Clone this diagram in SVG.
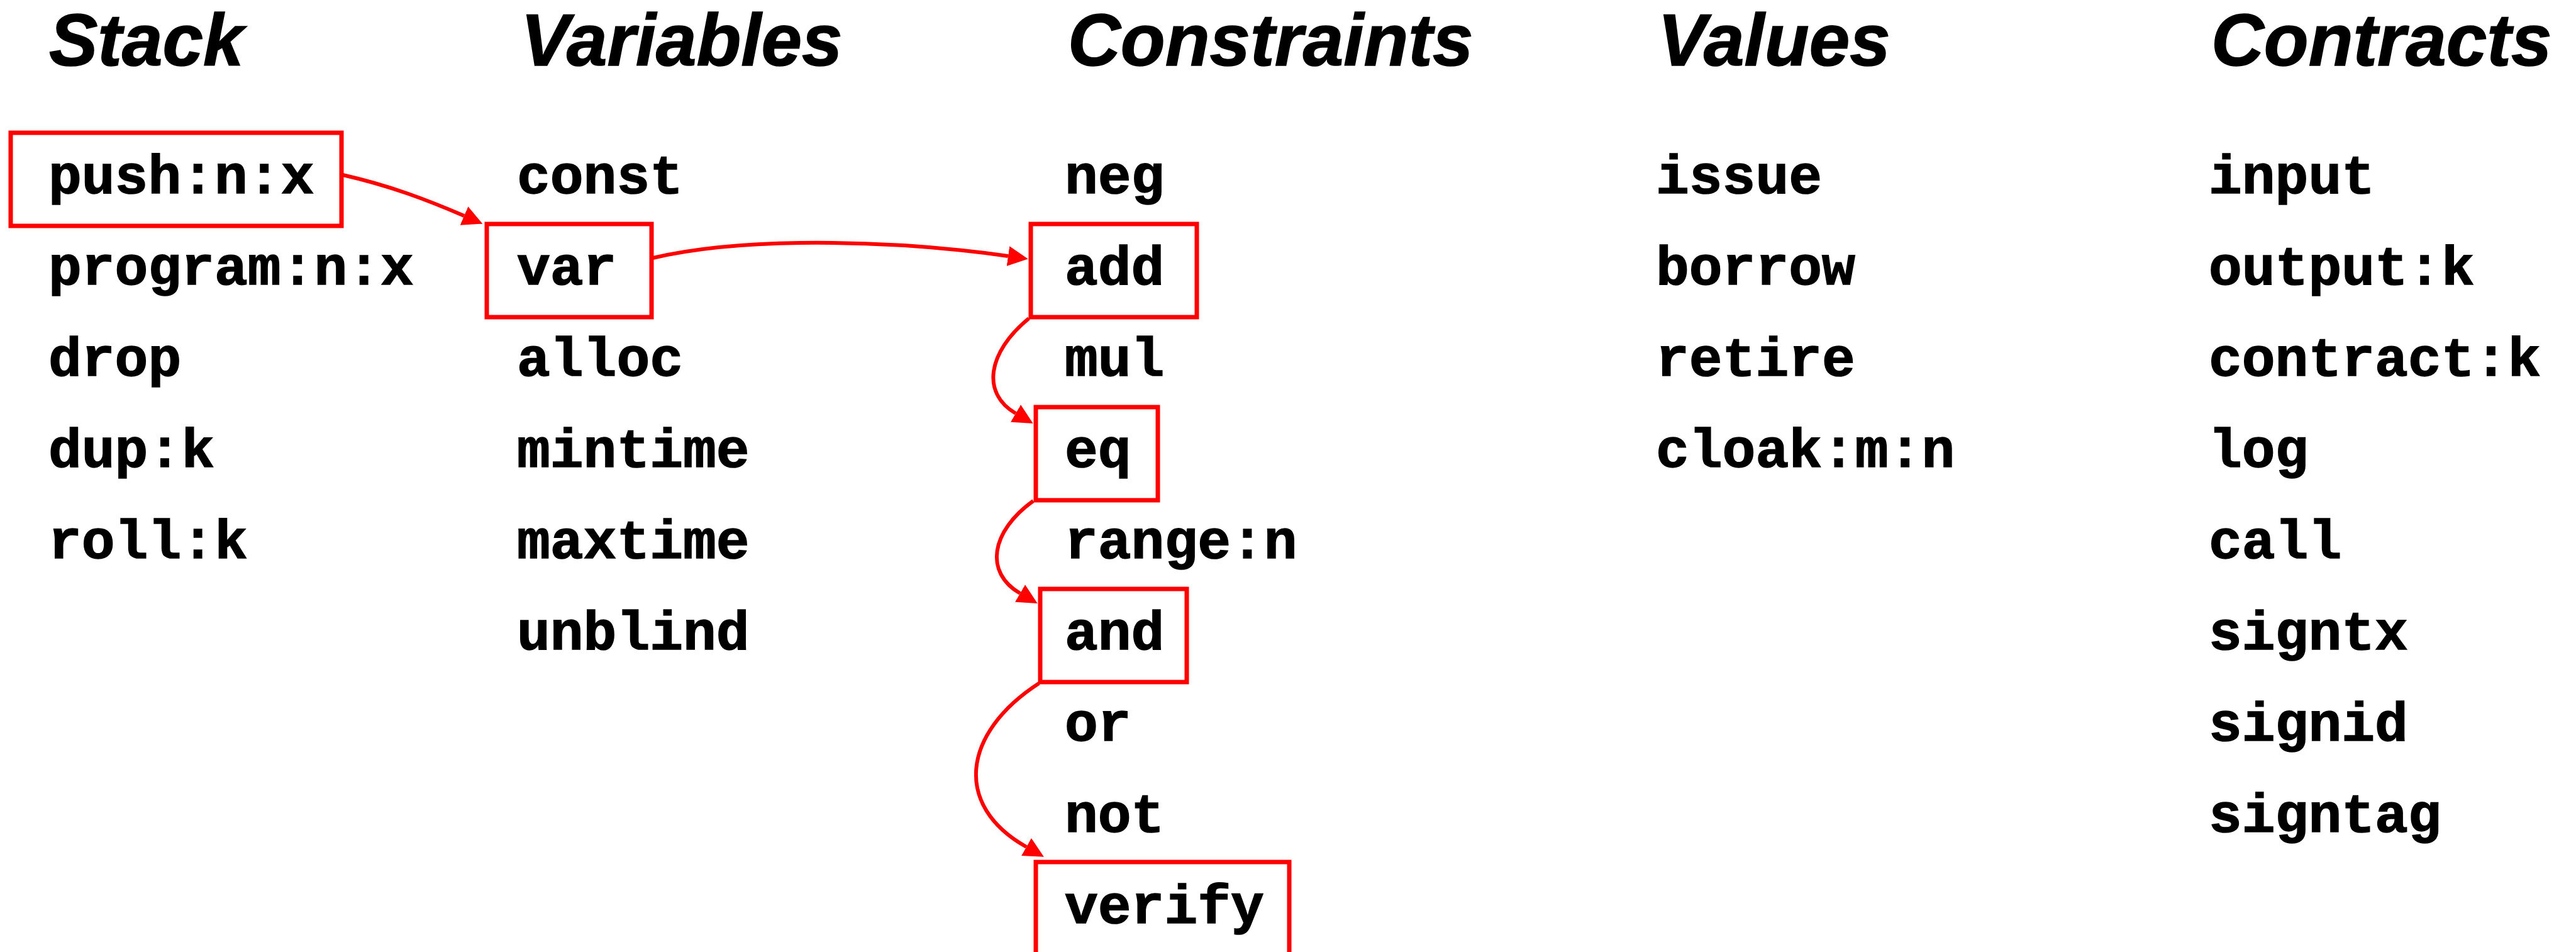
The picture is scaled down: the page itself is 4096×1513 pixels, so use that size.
<svg xmlns="http://www.w3.org/2000/svg" width="4096" height="1513" viewBox="0 0 4096 1513">
<style>
.h{font-family:"Liberation Sans",Arial,sans-serif;font-weight:bold;font-style:italic;font-size:116px;fill:#000;stroke:#000;stroke-width:1.5}
.t{font-family:"Liberation Mono","DejaVu Sans Mono",monospace;font-weight:bold;font-size:88px;fill:#000;stroke:#000;stroke-width:1.5}
.box{fill:none;stroke:#ff0000;stroke-width:7}
.c{fill:none;stroke:#ff0000;stroke-width:6}
</style>
<defs>
<marker id="ah" viewBox="0 0 32 32" refX="0" refY="16" markerWidth="32" markerHeight="32" markerUnits="userSpaceOnUse" orient="auto">
<path d="M0,0 L32,16 L0,32 z" fill="#ff0000"/>
</marker>
</defs>
<rect width="4096" height="1513" fill="#fff"/>
<g id="headers">
<text class="h" x="78" y="104">Stack</text>
<text class="h" x="828" y="104">Variables</text>
<text class="h" x="1698" y="104">Constraints</text>
<text class="h" x="2636" y="104">Values</text>
<text class="h" x="3516" y="104">Contracts</text>
</g>
<g id="stack">
<g id="push"><rect class="box" x="17" y="211" width="526" height="148"/><text class="t" x="77" y="307">push:n:x</text></g>
<text class="t" x="77" y="452">program:n:x</text>
<text class="t" x="77" y="597">drop</text>
<text class="t" x="77" y="742">dup:k</text>
<text class="t" x="77" y="887">roll:k</text>
</g>
<g id="variables">
<text class="t" x="822" y="307">const</text>
<g id="var"><rect class="box" x="774" y="356" width="262" height="148"/><text class="t" x="822" y="452">var</text></g>
<text class="t" x="822" y="597">alloc</text>
<text class="t" x="822" y="742">mintime</text>
<text class="t" x="822" y="887">maxtime</text>
<text class="t" x="822" y="1032">unblind</text>
</g>
<g id="constraints">
<text class="t" x="1693" y="307">neg</text>
<g id="add"><rect class="box" x="1639" y="356" width="264" height="148"/><text class="t" x="1693" y="452">add</text></g>
<text class="t" x="1693" y="597">mul</text>
<g id="eq"><rect class="box" x="1647" y="647" width="194" height="148"/><text class="t" x="1693" y="742">eq</text></g>
<text class="t" x="1693" y="887">range:n</text>
<g id="and"><rect class="box" x="1654" y="936" width="233" height="148"/><text class="t" x="1693" y="1032">and</text></g>
<text class="t" x="1693" y="1177">or</text>
<text class="t" x="1693" y="1322">not</text>
<g id="verify"><rect class="box" x="1647" y="1370" width="403" height="150"/><text class="t" x="1693" y="1467">verify</text></g>
</g>
<g id="values">
<text class="t" x="2633" y="307">issue</text>
<text class="t" x="2633" y="452">borrow</text>
<text class="t" x="2633" y="597">retire</text>
<text class="t" x="2633" y="742">cloak:m:n</text>
</g>
<g id="contracts">
<text class="t" x="3512" y="307">input</text>
<text class="t" x="3512" y="452">output:k</text>
<text class="t" x="3512" y="597">contract:k</text>
<text class="t" x="3512" y="742">log</text>
<text class="t" x="3512" y="887">call</text>
<text class="t" x="3512" y="1032">signtx</text>
<text class="t" x="3512" y="1177">signid</text>
<text class="t" x="3512" y="1322">signtag</text>
</g>
<g id="connectors">
<path class="c" d="M545,278 C620,295 680,318 738,343" marker-end="url(#ah)"/>
<path class="c" d="M1038,410 C1200,372 1450,385 1603,407" marker-end="url(#ah)"/>
<path class="c" d="M1636,506 C1570,560 1560,625 1615,657" marker-end="url(#ah)"/>
<path class="c" d="M1643,796 C1575,845 1565,910 1622,943" marker-end="url(#ah)"/>
<path class="c" d="M1652,1086 C1530,1165 1515,1280 1632,1346" marker-end="url(#ah)"/>
</g>
</svg>
